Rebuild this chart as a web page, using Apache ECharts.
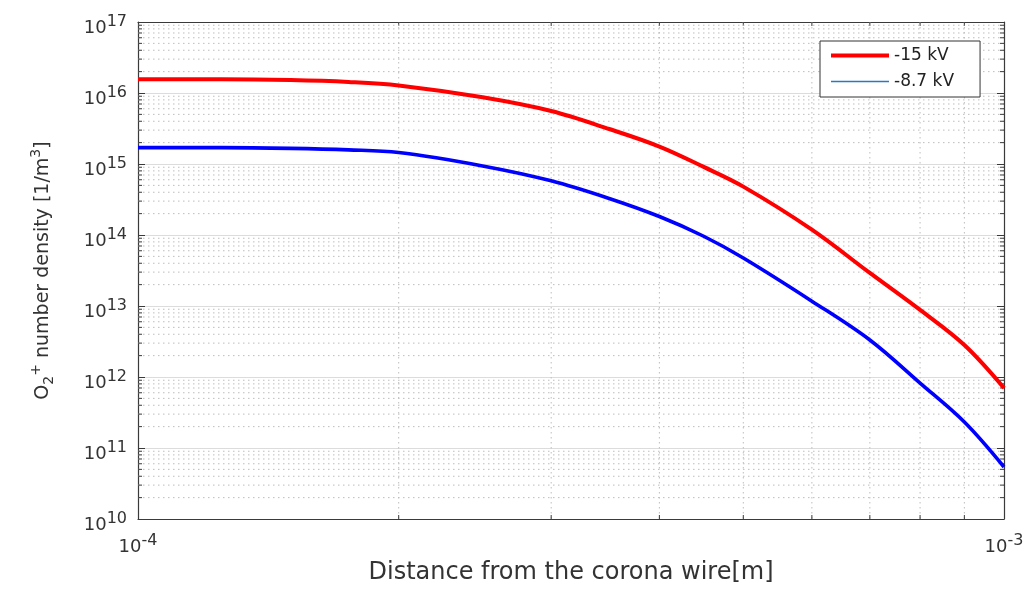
<!DOCTYPE html>
<html>
<head>
<meta charset="utf-8">
<script src="https://cdn.jsdelivr.net/npm/echarts@6/dist/echarts.min.js"></script>
<style>
  html, body { margin: 0; padding: 0; background: #ffffff; }
  #chart { width: 1034px; height: 592px; }
</style>
</head>
<body>
<div id="chart"></div>
<script>
// Distance from the corona wire [m]
const distance = [1.0e-4, 1.25e-4, 1.5e-4, 1.75e-4, 2.0e-4, 2.5e-4, 3.0e-4, 3.5e-4,
                  4.0e-4, 4.5e-4, 5.0e-4, 6.0e-4, 7.0e-4, 8.0e-4, 9.0e-4, 1.0e-3];
// O2+ number density [1/m^3] at -15 kV
const density15kV = [1.56e16, 1.56e16, 1.52e16, 1.43e16, 1.28e16, 8.7e15, 5.57e15, 3.11e15,
                     1.76e15, 9.1e14, 4.8e14, 1.19e14, 2.92e13, 8.8e12, 2.82e12, 7.0e11];
// O2+ number density [1/m^3] at -8.7 kV
const density87kV = [1.70e15, 1.70e15, 1.66e15, 1.58e15, 1.45e15, 9.4e14, 5.8e14, 3.27e14,
                     1.82e14, 9.6e13, 4.74e13, 1.17e13, 3.32e12, 8.2e11, 2.32e11, 5.4e10];
const seriesNames = ['-15 kV', '-8.7 kV'];
const xRange = [1e-4, 1e-3];
const yRange = [1e10, 1e17];
const xDecades = [-4];                       // decades spanned by the x axis
const yDecades = [10, 11, 12, 13, 14, 15, 16]; // decades spanned by the y axis
const minorFactors = [2, 3, 4, 5, 6, 7, 8, 9];

const FONT = 'DejaVu Sans';
const TEXT = '#333333';
const AXIS = '#3a3a3a';

// minor grid entries: [x, y, kind]  kind 0 = vertical line, 1 = horizontal line
const minorLines = [];
xDecades.forEach(function (e) {
  minorFactors.forEach(function (f) { minorLines.push([f * Math.pow(10, e), yRange[0], 0]); });
});
yDecades.forEach(function (e) {
  minorFactors.forEach(function (f) { minorLines.push([xRange[0], f * Math.pow(10, e), 1]); });
});

function powLabel(v) {
  const e = Math.round(Math.log10(v));
  return '{b|10}{s|' + e + '}';
}
const powRich = {
  b: { fontFamily: FONT, fontSize: 18, color: TEXT, padding: [12, 0, 0, 0] },
  s: { fontFamily: FONT, fontSize: 16, color: TEXT }
};

const chart = echarts.init(document.getElementById('chart'), null, { renderer: 'canvas' });

const commonLog = { type: 'log', logBase: 10, interval: 1 };

chart.setOption({
  animation: false,
  backgroundColor: '#ffffff',
  grid: { left: 138, right: 30, top: 22, bottom: 73, containLabel: false },
  legend: {
    orient: 'vertical',
    left: 820,
    top: 41,
    padding: [6, 26, 7, 9],
    itemWidth: 58,
    itemHeight: 14,
    itemGap: 9,
    borderColor: '#333333',
    borderWidth: 1,
    backgroundColor: '#ffffff',
    textStyle: { fontFamily: FONT, fontSize: 17, lineHeight: 16, color: '#222222' },
    data: [
      { name: seriesNames[0], itemStyle: { opacity: 0 }, lineStyle: { width: 4, color: '#ff0000' } },
      { name: seriesNames[1], itemStyle: { opacity: 0 }, lineStyle: { width: 1.6, color: '#2a78c2' } }
    ]
  },
  xAxis: [
    Object.assign({}, commonLog, {
      min: xRange[0], max: xRange[1], position: 'bottom',
      name: 'Distance from the corona wire[m]',
      nameLocation: 'middle', nameGap: 38,
      nameTextStyle: { fontFamily: FONT, fontSize: 24, color: TEXT },
      axisLine: { show: true, lineStyle: { color: AXIS, width: 1.2 } },
      axisTick: { show: true, inside: true, length: 7, lineStyle: { color: AXIS } },
      axisLabel: { margin: 7, formatter: powLabel, rich: powRich },
      splitLine: { show: true, lineStyle: { color: '#dcdcdc', width: 1 } },
      minorTick: { show: false }, minorSplitLine: { show: false }
    }),
    Object.assign({}, commonLog, {
      min: xRange[0], max: xRange[1], position: 'top',
      axisLine: { show: true, lineStyle: { color: AXIS, width: 1.2 } },
      axisTick: { show: true, inside: true, length: 7, lineStyle: { color: AXIS } },
      axisLabel: { show: false }, splitLine: { show: false }
    })
  ],
  yAxis: [
    Object.assign({}, commonLog, {
      min: yRange[0], max: yRange[1], position: 'left',
      name: '{n|O}{sub|2}{sup|+}{n| number density [1/m}{sup|3}{n|]}',
      nameLocation: 'middle', nameGap: 82, nameRotate: 90,
      nameTextStyle: {
        rich: {
          n: { fontFamily: FONT, fontSize: 19, color: TEXT, padding: [6, 0, 0, 0] },
          sub: { fontFamily: FONT, fontSize: 14, color: TEXT, padding: [18, 0, 0, 0] },
          sup: { fontFamily: FONT, fontSize: 14, color: TEXT, padding: [0, 0, 8, 0] }
        }
      },
      axisLine: { show: true, lineStyle: { color: AXIS, width: 1.2 } },
      axisTick: { show: true, inside: true, length: 7, lineStyle: { color: AXIS } },
      axisLabel: { margin: 11, formatter: powLabel, rich: powRich },
      splitLine: { show: true, lineStyle: { color: '#dcdcdc', width: 1 } },
      minorTick: { show: false }, minorSplitLine: { show: false }
    }),
    Object.assign({}, commonLog, {
      min: yRange[0], max: yRange[1], position: 'right',
      axisLine: { show: true, lineStyle: { color: AXIS, width: 1.2 } },
      axisTick: { show: true, inside: true, length: 7, lineStyle: { color: AXIS } },
      axisLabel: { show: false }, splitLine: { show: false }
    })
  ],
  series: [
    {
      // dotted minor grid with short minor ticks on every side of the box
      type: 'custom',
      name: 'minor grid',
      silent: true,
      z: 1,
      xAxisIndex: 0,
      yAxisIndex: 0,
      data: minorLines,
      renderItem: function (params, api) {
        const cs = params.coordSys;
        const p = api.coord([api.value(0), api.value(1)]);
        const dotted = { stroke: '#bdbdbd', lineWidth: 1, lineDash: [1.5, 3.5] };
        const tick = { stroke: AXIS, lineWidth: 1 };
        if (api.value(2) === 0) {
          const x = p[0], y0 = cs.y, y1 = cs.y + cs.height;
          return { type: 'group', children: [
            { type: 'line', shape: { x1: x, y1: y0, x2: x, y2: y1 }, style: dotted },
            { type: 'line', shape: { x1: x, y1: y1, x2: x, y2: y1 - 4 }, style: tick },
            { type: 'line', shape: { x1: x, y1: y0, x2: x, y2: y0 + 4 }, style: tick }
          ] };
        }
        const y = p[1], x0 = cs.x, x1 = cs.x + cs.width;
        return { type: 'group', children: [
          { type: 'line', shape: { x1: x0, y1: y, x2: x1, y2: y }, style: dotted },
          { type: 'line', shape: { x1: x0, y1: y, x2: x0 + 4, y2: y }, style: tick },
          { type: 'line', shape: { x1: x1, y1: y, x2: x1 - 4, y2: y }, style: tick }
        ] };
      }
    },
    {
      type: 'line',
      name: seriesNames[0],
      data: distance.map(function (x, i) { return [x, density15kV[i]]; }),
      showSymbol: false,
      symbol: 'none',
      smooth: 0.35,
      z: 3,
      lineStyle: { color: '#ff0000', width: 4 },
      itemStyle: { color: '#ff0000' }
    },
    {
      type: 'line',
      name: seriesNames[1],
      data: distance.map(function (x, i) { return [x, density87kV[i]]; }),
      showSymbol: false,
      symbol: 'none',
      smooth: 0.35,
      z: 3,
      lineStyle: { color: '#0000ff', width: 3.6 },
      itemStyle: { color: '#0000ff' }
    }
  ]
});
</script>
</body>
</html>
